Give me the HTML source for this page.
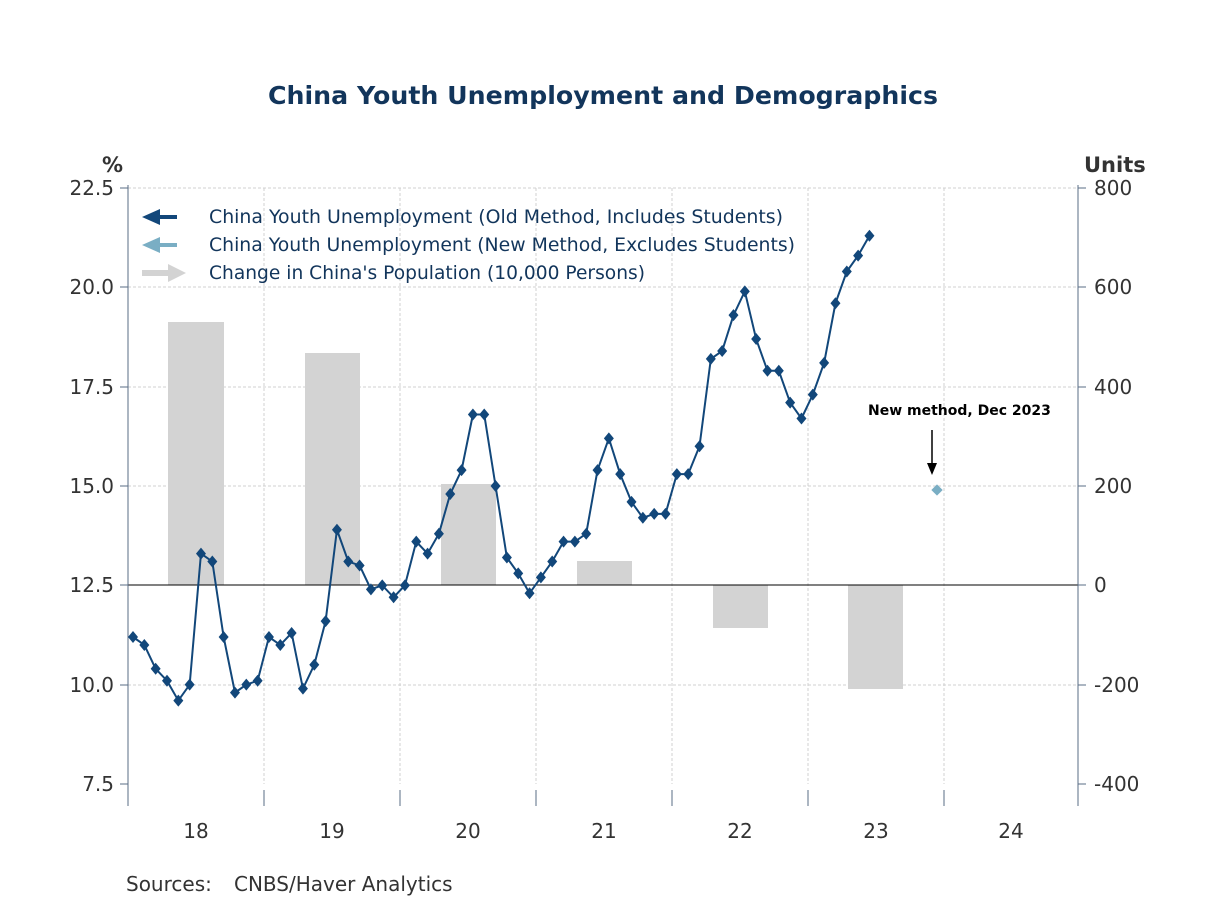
<!DOCTYPE html>
<html><head><meta charset="utf-8"><style>
body{margin:0;background:#fff}
svg text{font-family:"DejaVu Sans","Liberation Sans",sans-serif}
</style></head><body>
<svg id="s" width="1208" height="906" viewBox="0 0 1208 906" xmlns="http://www.w3.org/2000/svg">
<rect width="1208" height="906" fill="#fff"/>
<text x="603" y="104" text-anchor="middle" font-size="25" font-weight="bold" fill="#12355b" textLength="670" lengthAdjust="spacingAndGlyphs">China Youth Unemployment and Demographics</text>
<g stroke="#d0d0d0" stroke-dasharray="3,2" stroke-width="1">
<line x1="128" x2="1078" y1="188" y2="188"/><line x1="128" x2="1078" y1="287" y2="287"/><line x1="128" x2="1078" y1="387" y2="387"/><line x1="128" x2="1078" y1="486" y2="486"/><line x1="128" x2="1078" y1="685" y2="685"/>
<line x1="264" x2="264" y1="188" y2="784"/><line x1="400" x2="400" y1="188" y2="784"/><line x1="536" x2="536" y1="188" y2="784"/><line x1="672" x2="672" y1="188" y2="784"/><line x1="808" x2="808" y1="188" y2="784"/><line x1="944" x2="944" y1="188" y2="784"/>
</g>
<g fill="#d3d3d3">
<rect x="168" y="322" width="56" height="263"/>
<rect x="305" y="353" width="55" height="232"/>
<rect x="441" y="484" width="55" height="101"/>
<rect x="577" y="561" width="55" height="24"/>
<rect x="713" y="585" width="55" height="43"/>
<rect x="848" y="585" width="55" height="104"/>
</g>
<line x1="128" x2="1078" y1="585" y2="585" stroke="#000" stroke-width="1"/>
<g stroke="#5a6c85" stroke-width="1" fill="none">
<line x1="128" x2="128" y1="185" y2="806"/><line x1="1078" x2="1078" y1="185" y2="806"/>
</g>
<g stroke="#5a6c85" stroke-width="1">
<line x1="120" x2="128" y1="188" y2="188"/><line x1="120" x2="128" y1="287" y2="287"/><line x1="120" x2="128" y1="387" y2="387"/><line x1="120" x2="128" y1="486" y2="486"/><line x1="120" x2="128" y1="585" y2="585"/><line x1="120" x2="128" y1="685" y2="685"/><line x1="120" x2="128" y1="784" y2="784"/>
<line x1="1078" x2="1086" y1="188" y2="188"/><line x1="1078" x2="1086" y1="287" y2="287"/><line x1="1078" x2="1086" y1="387" y2="387"/><line x1="1078" x2="1086" y1="486" y2="486"/><line x1="1078" x2="1086" y1="585" y2="585"/><line x1="1078" x2="1086" y1="685" y2="685"/><line x1="1078" x2="1086" y1="784" y2="784"/>
<line x1="128" x2="128" y1="790" y2="806"/><line x1="264" x2="264" y1="790" y2="806"/><line x1="400" x2="400" y1="790" y2="806"/><line x1="536" x2="536" y1="790" y2="806"/><line x1="672" x2="672" y1="790" y2="806"/><line x1="808" x2="808" y1="790" y2="806"/><line x1="944" x2="944" y1="790" y2="806"/><line x1="1078" x2="1078" y1="790" y2="806"/>
</g>
<g font-size="20" fill="#333" text-anchor="end">
<text x="114" y="195">22.5</text><text x="114" y="294">20.0</text><text x="114" y="394">17.5</text><text x="114" y="493">15.0</text><text x="114" y="592">12.5</text><text x="114" y="692">10.0</text><text x="114" y="791">7.5</text>
</g>
<g font-size="20" fill="#333" text-anchor="start">
<text x="1094" y="195">800</text><text x="1094" y="294">600</text><text x="1094" y="394">400</text><text x="1094" y="493">200</text><text x="1094" y="592">0</text><text x="1094" y="692">-200</text><text x="1094" y="791">-400</text>
</g>
<text x="102" y="172" font-size="21" font-weight="bold" fill="#333">%</text>
<text x="1084" y="172" font-size="21" font-weight="bold" fill="#333">Units</text>
<g font-size="20" fill="#333" text-anchor="middle">
<text x="196" y="838">18</text><text x="332" y="838">19</text><text x="468" y="838">20</text><text x="604" y="838">21</text><text x="740" y="838">22</text><text x="876" y="838">23</text><text x="1011" y="838">24</text>
</g>
<text x="126" y="891" font-size="20" fill="#333">Sources:</text>
<text x="234" y="891" font-size="20" fill="#333">CNBS/Haver Analytics</text>
<g font-size="19" fill="#12355b">
<text x="209" y="223" textLength="574" lengthAdjust="spacingAndGlyphs">China Youth Unemployment (Old Method, Includes Students)</text>
<text x="209" y="251" textLength="586" lengthAdjust="spacingAndGlyphs">China Youth Unemployment (New Method, Excludes Students)</text>
<text x="209" y="279" textLength="436" lengthAdjust="spacingAndGlyphs">Change in China's Population (10,000 Persons)</text>
</g>
<line x1="155" x2="177" y1="217" y2="217" stroke="#12477a" stroke-width="4"/><polygon points="142,217 160,209 160,225" fill="#12477a"/>
<line x1="155" x2="177" y1="245" y2="245" stroke="#7aaec4" stroke-width="4"/><polygon points="142,245 160,237 160,253" fill="#7aaec4"/>
<line x1="142" x2="172" y1="273" y2="273" stroke="#d3d3d3" stroke-width="6"/><polygon points="186,273 168,264 168,282" fill="#d3d3d3"/>
<text x="868" y="415" font-size="14" font-weight="bold" font-family="Liberation Sans,sans-serif" fill="#000">New method, Dec 2023</text>
<line x1="932" x2="932" y1="430" y2="466" stroke="#000" stroke-width="1.5"/><polygon points="927,463 937,463 932,475" fill="#000"/>
<rect x="933" y="486" width="8" height="8" transform="rotate(45 937 490)" fill="#7aaec4"/>
<g id="ser"></g>
</svg>
<script>
var v=[11.2,11.0,10.4,10.1,9.6,10.0,13.3,13.1,11.2,9.8,10.0,10.1,11.2,11.0,11.3,9.9,10.5,11.6,13.9,13.1,13.0,12.4,12.5,12.2,12.5,13.6,13.3,13.8,14.8,15.4,16.8,16.8,15.0,13.2,12.8,12.3,12.7,13.1,13.6,13.6,13.8,15.4,16.2,15.3,14.6,14.2,14.3,14.3,15.3,15.3,16.0,18.2,18.4,19.3,19.9,18.7,17.9,17.9,17.1,16.7,17.3,18.1,19.6,20.4,20.8,21.3];
var ns="http://www.w3.org/2000/svg",g=document.getElementById("ser"),pts=[];
v.forEach(function(d,i){var x=133+i*11.33,y=784-(d-7.5)*39.73;pts.push([x,y]);});
var pl=document.createElementNS(ns,"polyline");pl.setAttribute("points",pts.map(function(p){return p.join(",")}).join(" "));
pl.setAttribute("fill","none");pl.setAttribute("stroke","#12477a");pl.setAttribute("stroke-width","2");g.appendChild(pl);
pts.forEach(function(p){var r=document.createElementNS(ns,"polygon");r.setAttribute("points",(p[0])+","+(p[1]-6)+" "+(p[0]+5)+","+p[1]+" "+p[0]+","+(p[1]+6)+" "+(p[0]-5)+","+p[1]);r.setAttribute("fill","#12477a");g.appendChild(r);});
</script>
</body></html>
